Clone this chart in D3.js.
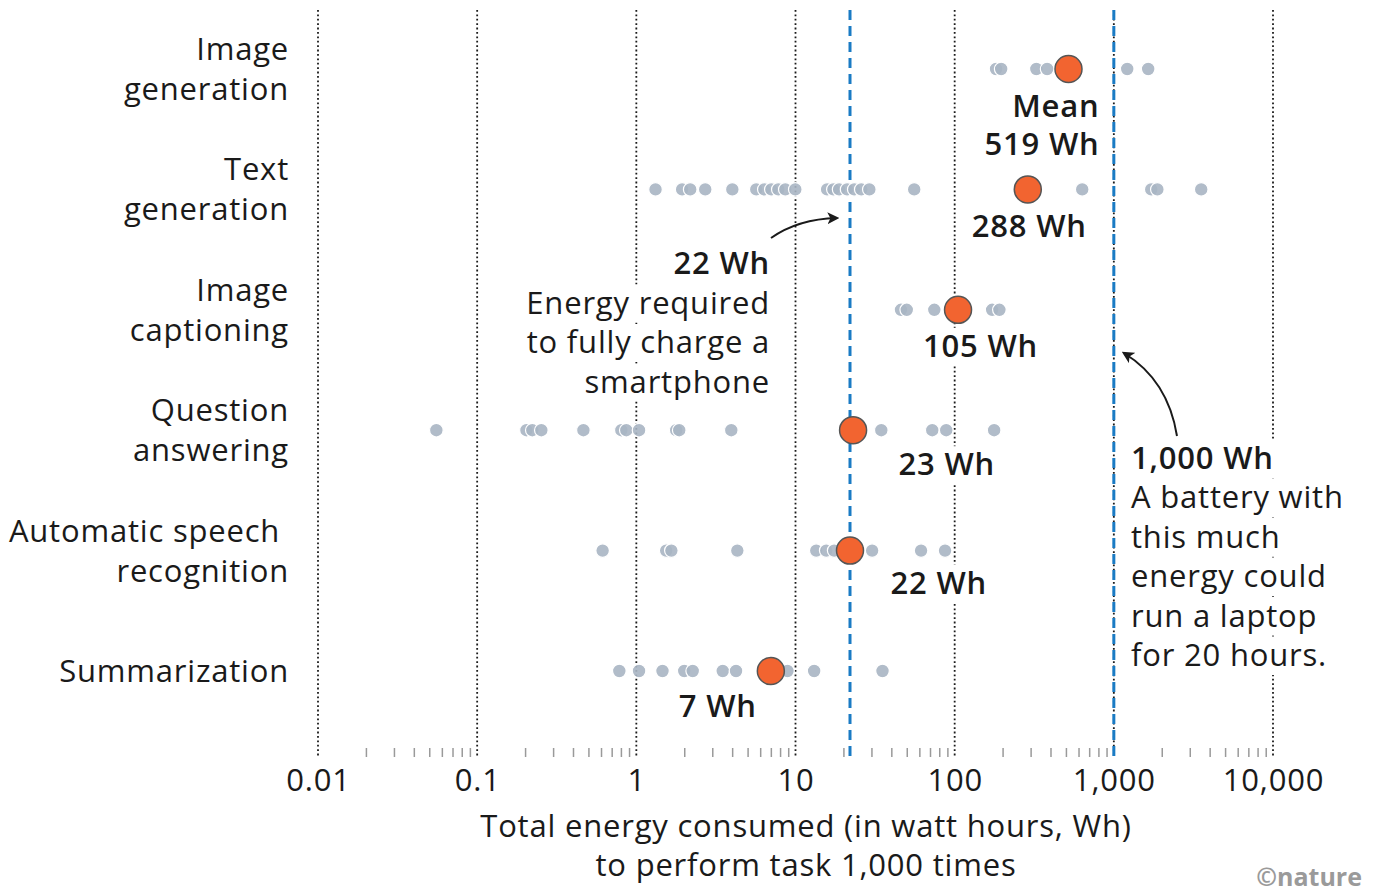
<!DOCTYPE html>
<html>
<head>
<meta charset="utf-8">
<script src="https://cdn.jsdelivr.net/npm/d3@7"></script>
<style>
  body { margin: 0; background: #fff; }
  svg { font-family: "Open Sans", "Noto Sans", sans-serif; letter-spacing: 0.8px; }
</style>
</head>
<body>
<div id="chart"></div>
<script>
// tasks, top to bottom
const tasks = ["Image generation", "Text generation", "Image captioning", "Question answering", "Automatic speech recognition", "Summarization"];
const taskLines = [["Image", "generation"], ["Text", "generation"], ["Image", "captioning"], ["Question", "answering"], ["Automatic speech ", "recognition"], ["Summarization"]];

// energy per 1,000 runs for each model (Wh)
const modelValues = [
  [182, 196, 326, 381, 1214, 1644],
  [1.32, 1.94, 2.18, 2.71, 4.01, 5.67, 6.37, 7.05, 7.8, 8.63, 9.97, 15.8, 17.3, 18.8, 21.1, 23.4, 25.9, 29.1, 55.7, 633, 1718, 1877, 3540],
  [46, 50, 74.5, 172, 191],
  [0.0554, 0.204, 0.222, 0.253, 0.465, 0.805, 0.865, 1.04, 1.78, 1.86, 3.95, 34.6, 72.3, 88.5, 177],
  [0.614, 1.54, 1.66, 4.31, 13.5, 15.6, 17.5, 30.3, 61.5, 87],
  [0.782, 1.04, 1.46, 2.0, 2.26, 3.49, 4.23, 8.9, 13.1, 35.2]
];
const means = [519, 288, 105, 23, 22, 7];
const meanLabels = [["Mean", "519 Wh"], ["288 Wh"], ["105 Wh"], ["23 Wh"], ["22 Wh"], ["7 Wh"]];

const majorTicks = [0.01, 0.1, 1, 10, 100, 1000, 10000];
const refValues = [22, 1000];
const phoneNote = ["22 Wh", "Energy required", "to fully charge a", "smartphone"];
const laptopNote = ["1,000 Wh", "A battery with", "this much", "energy could", "run a laptop", "for 20 hours."];
const axisTitle = ["Total energy consumed (in watt hours, Wh)", "to perform task 1,000 times"];

const W = 1379, H = 895;
const fs = 31;
const ink = "#1a1a1a";

const svg = d3.select("#chart").append("svg")
  .attr("width", W).attr("height", H);

const x = d3.scaleLog().domain([0.01, 10000]).range([318, 1273]);
const y = d3.scalePoint().domain(tasks).range([69, 671]);
const gridTop = 10, axisY = 757;

// minor ticks
const minorTicks = [];
for (let e = -2; e < 4; e++) {
  for (let m = 2; m <= 9; m++) minorTicks.push(m * Math.pow(10, e));
}
svg.append("g")
  .attr("transform", `translate(0,${axisY - 9})`)
  .call(d3.axisBottom(x).tickValues(minorTicks).tickSize(9).tickFormat(""))
  .call(g => g.select(".domain").remove())
  .call(g => g.selectAll("line").attr("stroke", "#9a9a9a").attr("stroke-width", 1.5));

// major grid lines
svg.append("g").selectAll("line")
  .data(majorTicks)
  .join("line")
  .attr("x1", d => x(d)).attr("x2", d => x(d))
  .attr("y1", gridTop).attr("y2", axisY)
  .attr("stroke", ink)
  .attr("stroke-width", 1.8)
  .attr("stroke-dasharray", "1.8,2.6");

// major tick labels
svg.append("g")
  .attr("transform", `translate(0,${axisY})`)
  .call(d3.axisBottom(x).tickValues(majorTicks).tickSize(0).tickPadding(12).tickFormat(d3.format(",")))
  .call(g => g.select(".domain").remove())
  .call(g => g.selectAll("text").attr("font-size", fs).attr("fill", ink).attr("font-family", "Open Sans"));

// reference lines (blue dashed)
svg.append("g").selectAll("line")
  .data(refValues)
  .join("line")
  .attr("x1", d => x(d)).attr("x2", d => x(d))
  .attr("y1", gridTop).attr("y2", axisY)
  .attr("stroke", "#1a7bc4")
  .attr("stroke-width", 3)
  .attr("stroke-dasharray", "10,6");

// layer for white knockouts behind annotation text
const knock = svg.append("g");

// task labels
const tl = svg.append("g").selectAll("text")
  .data(tasks)
  .join("text")
  .attr("text-anchor", "end")
  .attr("font-size", fs)
  .attr("fill", ink);
tl.each(function (d, i) {
  const lines = taskLines[i];
  const n = lines.length;
  d3.select(this).selectAll("tspan")
    .data(lines)
    .join("tspan")
    .attr("x", 289)
    .attr("y", (l, j) => y(d) + (j - (n - 1) / 2) * 40 + 11)
    .attr("xml:space", "preserve")
    .text(l => l);
});

// model dots
const rows = svg.append("g").selectAll("g")
  .data(tasks)
  .join("g");
rows.selectAll("circle")
  .data((d, i) => modelValues[i].map(v => ({ task: d, v })))
  .join("circle")
  .attr("cx", d => x(d.v))
  .attr("cy", d => y(d.task))
  .attr("r", 6.8)
  .attr("fill", "#a8b5c3")
  .attr("fill-opacity", 0.9)
  .attr("stroke", "#fff")
  .attr("stroke-width", 1.2);

// means
svg.append("g").selectAll("circle")
  .data(tasks)
  .join("circle")
  .attr("cx", (d, i) => x(means[i]))
  .attr("cy", d => y(d))
  .attr("r", 13.5)
  .attr("fill", "#f26430")
  .attr("stroke", "#555")
  .attr("stroke-width", 1.5);

// mean labels, right edge relative to the mean dot
const meanOffsets = [[31, 37], [59, 37], [80, 36], [142, 34], [137, 32], [-14, 35]];
svg.append("g").selectAll("text")
  .data(tasks)
  .join("text")
  .attr("class", "note")
  .attr("font-size", fs)
  .attr("font-weight", 600)
  .attr("fill", ink)
  .attr("text-anchor", "end")
  .each(function (d, i) {
    const rx = x(means[i]) + meanOffsets[i][0];
    const cy = y(d) + meanOffsets[i][1];
    d3.select(this).selectAll("tspan")
      .data(meanLabels[i])
      .join("tspan")
      .attr("x", rx)
      .attr("y", (l, j) => cy + 11 + j * 38)
      .text(l => l);
  });

// phone note
svg.append("text")
  .attr("class", "note")
  .attr("font-size", fs)
  .attr("fill", ink)
  .attr("text-anchor", "end")
  .selectAll("tspan")
  .data(phoneNote)
  .join("tspan")
  .attr("x", 770)
  .attr("y", (d, i) => 274 + i * 39.5)
  .attr("font-weight", (d, i) => i === 0 ? 600 : 400)
  .text(d => d);

// laptop note
svg.append("text")
  .attr("class", "note")
  .attr("font-size", fs)
  .attr("fill", ink)
  .attr("text-anchor", "start")
  .selectAll("tspan")
  .data(laptopNote)
  .join("tspan")
  .attr("x", 1131)
  .attr("y", (d, i) => 469 + i * 39.4)
  .attr("font-weight", (d, i) => i === 0 ? 600 : 400)
  .text(d => d);

// white boxes behind each line of annotation text, so grid lines stop there
svg.selectAll("text.note tspan").each(function () {
  const b = this.getBBox();
  knock.append("rect")
    .attr("x", b.x - 3).attr("y", b.y + 4)
    .attr("width", b.width + 6).attr("height", b.height - 4)
    .attr("fill", "#fff");
});

// arrows
svg.append("defs").append("marker")
  .attr("id", "head")
  .attr("viewBox", "0 0 10 10")
  .attr("refX", 8).attr("refY", 5)
  .attr("markerWidth", 6).attr("markerHeight", 6)
  .attr("orient", "auto")
  .append("path")
  .attr("d", "M0,0 L10,5 L0,10 L2.5,5 Z")
  .attr("fill", ink);

svg.append("path")
  .attr("d", "M771,238 Q798,219 " + (x(22) - 13) + ",218")
  .attr("fill", "none").attr("stroke", ink).attr("stroke-width", 2)
  .attr("marker-end", "url(#head)");
svg.append("path")
  .attr("d", "M1177,436 Q1168,380 " + (x(1000) + 10) + ",353")
  .attr("fill", "none").attr("stroke", ink).attr("stroke-width", 2)
  .attr("marker-end", "url(#head)");

// axis title
svg.append("text")
  .attr("font-size", fs)
  .attr("fill", ink)
  .attr("text-anchor", "middle")
  .selectAll("tspan")
  .data(axisTitle)
  .join("tspan")
  .attr("x", 806)
  .attr("y", (d, i) => 837 + i * 39)
  .text(d => d);

// credit
svg.append("text")
  .attr("x", 1362).attr("y", 886)
  .attr("text-anchor", "end")
  .attr("font-size", 25)
  .attr("font-weight", 700)
  .attr("letter-spacing", 0)
  .attr("fill", "#9a9a9a")
  .text("©nature");
</script>
</body>
</html>
